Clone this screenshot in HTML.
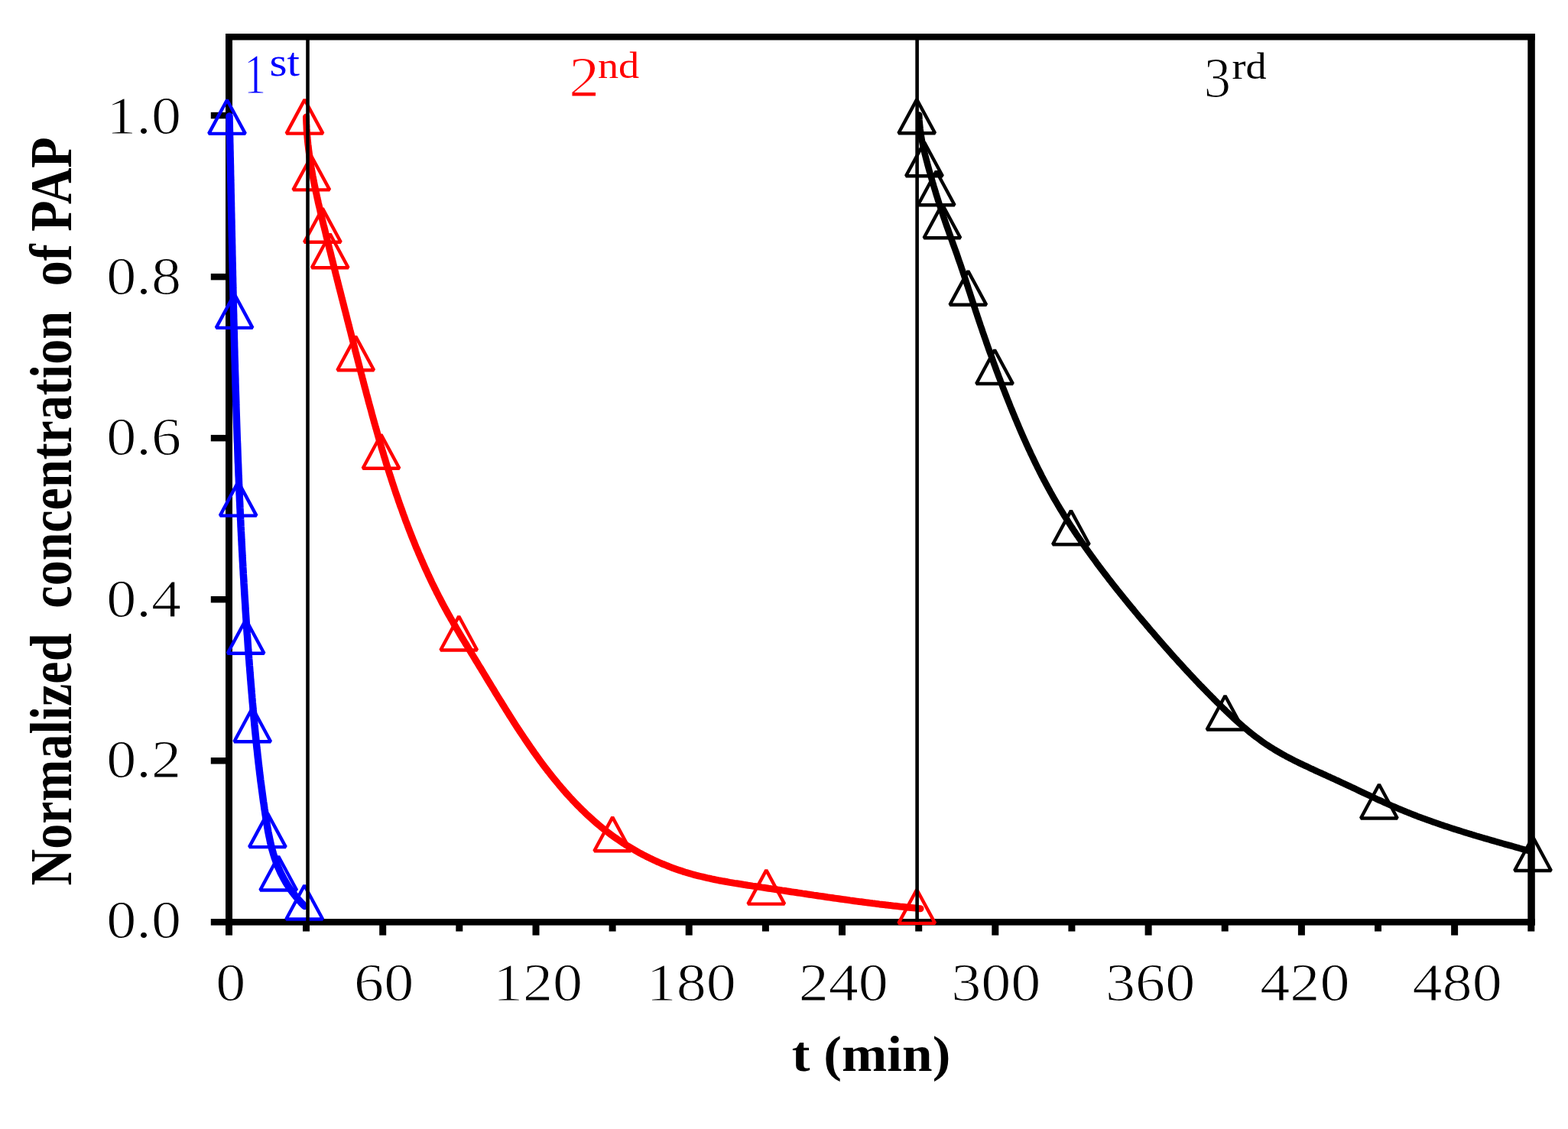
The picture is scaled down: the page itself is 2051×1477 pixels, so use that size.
<!DOCTYPE html><html><head><meta charset="utf-8"><style>html,body{margin:0;padding:0;background:#fff;overflow:hidden}svg{display:block}</style></head><body>
<svg width="2051" height="1477" viewBox="0 0 2051 1477">
<rect width="2051" height="1477" fill="#fff"/>
<g fill="#000">
<rect x="295" y="44" width="9" height="1166.5"/>
<rect x="1998.3" y="44" width="9.5" height="1166.5"/>
<rect x="295" y="44" width="1712.8" height="8.5"/>
<rect x="275.8" y="1202" width="1732" height="8.6"/>
<rect x="275.8" y="991.0" width="20" height="8.5"/>
<rect x="275.8" y="780.0" width="20" height="8.5"/>
<rect x="275.8" y="568.9" width="20" height="8.5"/>
<rect x="275.8" y="357.9" width="20" height="8.5"/>
<rect x="275.8" y="146.8" width="20" height="8.5"/>
<rect x="295.0" y="1206" width="9" height="17.6"/>
<rect x="396.0" y="1206" width="9" height="12.5"/>
<rect x="496.2" y="1206" width="9" height="17.6"/>
<rect x="596.3" y="1206" width="9" height="12.5"/>
<rect x="696.5" y="1206" width="9" height="17.6"/>
<rect x="796.6" y="1206" width="9" height="12.5"/>
<rect x="896.7" y="1206" width="9" height="17.6"/>
<rect x="996.9" y="1206" width="9" height="12.5"/>
<rect x="1097.0" y="1206" width="9" height="17.6"/>
<rect x="1197.2" y="1206" width="9" height="12.5"/>
<rect x="1297.3" y="1206" width="9" height="17.6"/>
<rect x="1397.4" y="1206" width="9" height="12.5"/>
<rect x="1497.6" y="1206" width="9" height="17.6"/>
<rect x="1597.7" y="1206" width="9" height="12.5"/>
<rect x="1697.9" y="1206" width="9" height="17.6"/>
<rect x="1798.0" y="1206" width="9" height="12.5"/>
<rect x="1898.1" y="1206" width="9" height="17.6"/>
<rect x="1998.3" y="1206" width="9" height="12.5"/>
</g>
<path d="M300.0,152.0 L300.1,155.0 L300.1,158.0 L300.2,161.0 L300.3,164.0 L300.3,167.0 L300.4,170.0 L300.5,173.0 L300.5,176.0 L300.6,179.0 L300.7,182.0 L300.7,185.0 L300.8,187.9 L300.9,190.9 L300.9,193.9 L301.0,196.9 L301.1,199.9 L301.1,202.9 L301.2,205.9 L301.3,208.9 L301.3,211.9 L301.4,214.9 L301.5,217.9 L301.5,220.9 L301.6,223.9 L301.6,226.9 L301.7,229.9 L301.8,232.9 L301.8,235.9 L301.9,238.9 L302.0,241.9 L302.0,244.9 L302.1,247.9 L302.1,250.9 L302.2,253.9 L302.3,256.9 L302.3,259.9 L302.4,262.8 L302.5,265.8 L302.5,268.8 L302.6,271.8 L302.6,274.8 L302.7,277.8 L302.8,280.8 L302.8,283.8 L302.9,286.8 L303.0,289.8 L303.0,292.8 L303.1,295.8 L303.1,298.8 L303.2,301.8 L303.3,304.8 L303.3,307.8 L303.4,310.8 L303.5,313.8 L303.5,316.8 L303.6,319.8 L303.7,322.8 L303.7,325.8 L303.8,328.8 L303.8,331.8 L303.9,334.8 L304.0,337.8 L304.0,340.8 L304.1,343.7 L304.2,346.7 L304.2,349.7 L304.3,352.7 L304.4,355.7 L304.4,358.7 L304.5,361.7 L304.6,364.7 L304.6,367.7 L304.7,370.7 L304.8,373.7 L304.8,376.7 L304.9,379.7 L305.0,382.7 L305.0,385.7 L305.1,388.7 L305.2,391.7 L305.2,394.7 L305.3,397.7 L305.4,400.7 L305.4,403.7 L305.5,406.7 L305.6,409.7 L305.7,412.7 L305.7,415.7 L305.8,418.7 L305.9,421.6 L306.0,424.6 L306.0,427.6 L306.1,430.6 L306.2,433.6 L306.3,436.6 L306.3,439.6 L306.4,442.6 L306.5,445.6 L306.6,448.6 L306.6,451.6 L306.7,454.6 L306.8,457.6 L306.9,460.6 L306.9,463.6 L307.0,466.6 L307.1,469.6 L307.2,472.6 L307.3,475.6 L307.4,478.6 L307.4,481.6 L307.5,484.6 L307.6,487.6 L307.7,490.6 L307.8,493.5 L307.9,496.5 L307.9,499.5 L308.0,502.5 L308.1,505.5 L308.2,508.5 L308.3,511.5 L308.4,514.5 L308.5,517.5 L308.6,520.5 L308.7,523.5 L308.8,526.5 L308.8,529.5 L308.9,532.5 L309.0,535.5 L309.1,538.5 L309.2,541.5 L309.3,544.5 L309.4,547.5 L309.5,550.5 L309.6,553.5 L309.7,556.4 L309.8,559.4 L309.9,562.4 L310.0,565.4 L310.1,568.4 L310.2,571.4 L310.3,574.4 L310.4,577.4 L310.6,580.4 L310.7,583.4 L310.8,586.4 L310.9,589.4 L311.0,592.4 L311.1,595.4 L311.2,598.4 L311.3,601.4 L311.4,604.4 L311.6,607.4 L311.7,610.3 L311.8,613.3 L311.9,616.3 L312.0,619.3 L312.1,622.3 L312.3,625.3 L312.4,628.3 L312.5,631.3 L312.6,634.3 L312.8,637.3 L312.9,640.3 L313.0,643.3 L313.1,646.3 L313.3,649.3 L313.4,652.3 L313.5,655.3 L313.7,658.2 L313.8,661.2 L313.9,664.2 L314.1,667.2 L314.2,670.2 L314.3,673.2 L314.5,676.2 L314.6,679.2 L314.8,682.2 L314.9,685.2 L315.0,688.2 L315.2,691.2 L315.3,694.2 L315.5,697.2 L315.6,700.1 L315.8,703.1 L315.9,706.1 L316.1,709.1 L316.2,712.1 L316.4,715.1 L316.5,718.1 L316.7,721.1 L316.9,724.1 L317.0,727.1 L317.2,730.1 L317.3,733.1 L317.5,736.0 L317.7,739.0 L317.8,742.0 L318.0,745.0 L318.2,748.0 L318.3,751.0 L318.5,754.0 L318.7,757.0 L318.9,760.0 L319.0,763.0 L319.2,766.0 L319.4,768.9 L319.6,771.9 L319.7,774.9 L319.9,777.9 L320.1,780.9 L320.3,783.9 L320.5,786.9 L320.7,789.9 L320.9,792.9 L321.0,795.9 L321.2,798.9 L321.4,801.8 L321.6,804.8 L321.8,807.8 L322.0,810.8 L322.2,813.8 L322.4,816.8 L322.6,819.8 L322.8,822.8 L323.0,825.8 L323.2,828.7 L323.5,831.7 L323.7,834.7 L323.9,837.7 L324.1,840.7 L324.3,843.7 L324.5,846.7 L324.7,849.7 L325.0,852.7 L325.2,855.6 L325.4,858.6 L325.6,861.6 L325.9,864.6 L326.1,867.6 L326.3,870.6 L326.6,873.6 L326.8,876.6 L327.0,879.5 L327.3,882.5 L327.5,885.5 L327.7,888.5 L328.0,891.5 L328.2,894.5 L328.5,897.5 L328.7,900.5 L329.0,903.4 L329.2,906.4 L329.5,909.4 L329.7,912.4 L330.0,915.4 L330.2,918.4 L330.5,921.4 L330.8,924.4 L331.0,927.3 L331.3,930.3 L331.6,933.3 L331.8,936.3 L332.1,939.3 L332.4,942.3 L332.7,945.3 L332.9,948.2 L333.2,951.2 L333.5,954.2 L333.8,957.2 L334.1,960.2 L334.4,963.2 L334.7,966.1 L335.0,969.1 L335.3,972.1 L335.6,975.1 L335.9,978.1 L336.3,981.1 L336.6,984.0 L336.9,987.0 L337.2,990.0 L337.6,993.0 L337.9,996.0 L338.2,998.9 L338.6,1001.9 L338.9,1004.9 L339.3,1007.9 L339.6,1010.9 L340.0,1013.8 L340.4,1016.8 L340.7,1019.8 L341.1,1022.8 L341.5,1025.7 L341.9,1028.7 L342.3,1031.7 L342.7,1034.7 L343.1,1037.6 L343.5,1040.6 L343.9,1043.6 L344.3,1046.6 L344.7,1049.5 L345.2,1052.5 L345.6,1055.5 L346.0,1058.5 L346.5,1061.4 L346.9,1064.4 L347.4,1067.4 L347.8,1070.3 L348.3,1073.3 L348.8,1076.3 L349.3,1079.2 L349.8,1082.2 L350.3,1085.2 L350.8,1088.1 L351.4,1091.1 L352.0,1094.0 L352.6,1096.9 L353.2,1099.8 L353.8,1102.7 L354.5,1105.6 L355.2,1108.5 L356.0,1111.4 L356.8,1114.2 L357.6,1117.1 L358.5,1119.9 L359.4,1122.7 L360.4,1125.5 L361.4,1128.3 L362.4,1131.0 L363.5,1133.7 L364.7,1136.4 L365.9,1139.1 L367.1,1141.8 L368.5,1144.4 L369.8,1147.0 L371.2,1149.6 L372.7,1152.2 L374.2,1154.8 L375.7,1157.3 L377.3,1159.8 L379.0,1162.3 L380.7,1164.7 L382.5,1167.1 L384.3,1169.5 L386.2,1171.9 L388.1,1174.2 L390.1,1176.5 L392.1,1178.8 L394.2,1181.1 L396.3,1183.3 L398.5,1185.5" fill="none" stroke="#0000ff" stroke-width="9.5" stroke-linecap="round" stroke-linejoin="round"/>
<path d="M400.5,153.0 L400.6,156.0 L400.7,159.0 L400.8,162.0 L401.0,165.0 L401.1,168.0 L401.3,171.0 L401.5,174.0 L401.8,177.0 L402.0,180.0 L402.3,183.0 L402.6,186.0 L402.9,189.0 L403.3,191.9 L403.6,194.9 L404.0,197.9 L404.4,200.8 L404.8,203.8 L405.2,206.7 L405.6,209.7 L406.1,212.7 L406.6,215.6 L407.0,218.6 L407.5,221.5 L408.1,224.4 L408.6,227.4 L409.1,230.3 L409.7,233.3 L410.2,236.2 L410.8,239.1 L411.4,242.1 L412.0,245.0 L412.6,247.9 L413.2,250.8 L413.9,253.8 L414.5,256.7 L415.1,259.6 L415.8,262.5 L416.4,265.5 L417.1,268.4 L417.8,271.3 L418.5,274.2 L419.1,277.1 L419.8,280.0 L420.5,282.9 L421.2,285.9 L421.9,288.8 L422.6,291.7 L423.3,294.6 L424.1,297.5 L424.8,300.4 L425.5,303.3 L426.2,306.2 L426.9,309.1 L427.6,312.0 L428.3,315.0 L429.1,317.9 L429.8,320.8 L430.5,323.7 L431.2,326.6 L432.0,329.5 L432.7,332.4 L433.4,335.3 L434.1,338.2 L434.9,341.1 L435.6,344.0 L436.3,346.9 L437.0,349.8 L437.8,352.7 L438.5,355.6 L439.2,358.6 L440.0,361.5 L440.7,364.4 L441.4,367.3 L442.2,370.2 L442.9,373.1 L443.6,376.0 L444.4,378.9 L445.1,381.8 L445.9,384.7 L446.6,387.6 L447.3,390.5 L448.1,393.4 L448.8,396.3 L449.6,399.2 L450.3,402.1 L451.0,405.0 L451.8,407.9 L452.5,410.8 L453.3,413.7 L454.0,416.6 L454.7,419.5 L455.5,422.4 L456.2,425.3 L457.0,428.2 L457.7,431.1 L458.5,434.0 L459.2,436.9 L459.9,439.8 L460.7,442.7 L461.4,445.6 L462.2,448.5 L462.9,451.4 L463.7,454.3 L464.4,457.2 L465.1,460.1 L465.9,463.0 L466.6,465.9 L467.4,468.8 L468.1,471.7 L468.9,474.6 L469.6,477.5 L470.4,480.4 L471.1,483.3 L471.9,486.2 L472.6,489.1 L473.4,492.0 L474.1,494.9 L474.9,497.8 L475.6,500.7 L476.4,503.6 L477.1,506.5 L477.9,509.3 L478.7,512.2 L479.4,515.1 L480.2,518.0 L481.0,520.9 L481.7,523.8 L482.5,526.7 L483.3,529.6 L484.1,532.5 L484.9,535.4 L485.7,538.2 L486.4,541.1 L487.2,544.0 L488.0,546.9 L488.8,549.8 L489.6,552.7 L490.4,555.5 L491.2,558.4 L492.1,561.3 L492.9,564.2 L493.7,567.1 L494.5,569.9 L495.3,572.8 L496.2,575.7 L497.0,578.6 L497.9,581.4 L498.7,584.3 L499.5,587.2 L500.4,590.1 L501.3,592.9 L502.1,595.8 L503.0,598.7 L503.9,601.5 L504.7,604.4 L505.6,607.3 L506.5,610.1 L507.4,613.0 L508.3,615.9 L509.2,618.7 L510.1,621.6 L511.1,624.4 L512.0,627.3 L512.9,630.1 L513.8,633.0 L514.8,635.9 L515.7,638.7 L516.7,641.6 L517.6,644.4 L518.6,647.3 L519.6,650.1 L520.6,652.9 L521.5,655.8 L522.5,658.6 L523.5,661.5 L524.6,664.3 L525.6,667.1 L526.6,670.0 L527.6,672.8 L528.7,675.6 L529.7,678.5 L530.7,681.3 L531.8,684.1 L532.9,686.9 L533.9,689.7 L535.0,692.5 L536.1,695.3 L537.2,698.2 L538.3,701.0 L539.4,703.7 L540.5,706.5 L541.7,709.3 L542.8,712.1 L543.9,714.9 L545.1,717.7 L546.3,720.4 L547.4,723.2 L548.6,726.0 L549.8,728.7 L551.0,731.5 L552.2,734.2 L553.4,737.0 L554.6,739.7 L555.8,742.5 L557.1,745.2 L558.3,747.9 L559.6,750.6 L560.8,753.3 L562.1,756.0 L563.4,758.7 L564.6,761.4 L565.9,764.1 L567.3,766.8 L568.6,769.5 L569.9,772.1 L571.2,774.8 L572.6,777.4 L573.9,780.1 L575.3,782.7 L576.7,785.4 L578.0,788.0 L579.4,790.6 L580.8,793.2 L582.2,795.8 L583.7,798.4 L585.1,801.0 L586.5,803.6 L588.0,806.1 L589.4,808.7 L590.9,811.3 L592.4,813.8 L593.8,816.4 L595.3,818.9 L596.8,821.5 L598.3,824.0 L599.8,826.6 L601.3,829.1 L602.8,831.6 L604.3,834.2 L605.9,836.7 L607.4,839.2 L608.9,841.8 L610.5,844.3 L612.0,846.8 L613.5,849.4 L615.1,851.9 L616.6,854.4 L618.2,857.0 L619.7,859.5 L621.3,862.1 L622.8,864.6 L624.4,867.2 L625.9,869.7 L627.5,872.3 L629.1,874.8 L630.6,877.4 L632.2,880.0 L633.7,882.5 L635.3,885.1 L636.8,887.7 L638.4,890.3 L640.0,892.9 L641.5,895.4 L643.1,898.0 L644.7,900.6 L646.3,903.2 L647.8,905.8 L649.4,908.4 L651.0,911.0 L652.6,913.6 L654.2,916.1 L655.8,918.7 L657.4,921.3 L659.0,923.9 L660.6,926.5 L662.2,929.1 L663.8,931.6 L665.4,934.2 L667.0,936.8 L668.7,939.4 L670.3,941.9 L671.9,944.5 L673.6,947.1 L675.2,949.6 L676.9,952.2 L678.6,954.7 L680.2,957.3 L681.9,959.8 L683.6,962.3 L685.3,964.9 L687.0,967.4 L688.7,969.9 L690.4,972.4 L692.1,974.9 L693.8,977.4 L695.6,979.9 L697.3,982.4 L699.0,984.9 L700.8,987.3 L702.6,989.8 L704.3,992.3 L706.1,994.7 L707.9,997.1 L709.7,999.6 L711.5,1002.0 L713.3,1004.4 L715.2,1006.8 L717.0,1009.2 L718.9,1011.5 L720.7,1013.9 L722.6,1016.3 L724.5,1018.6 L726.4,1020.9 L728.3,1023.2 L730.2,1025.5 L732.1,1027.8 L734.1,1030.1 L736.0,1032.4 L738.0,1034.6 L739.9,1036.9 L741.9,1039.1 L743.9,1041.3 L745.9,1043.5 L748.0,1045.7 L750.0,1047.9 L752.0,1050.0 L754.1,1052.2 L756.2,1054.3 L758.3,1056.4 L760.4,1058.5 L762.5,1060.6 L764.6,1062.6 L766.8,1064.7 L768.9,1066.7 L771.1,1068.7 L773.3,1070.7 L775.5,1072.7 L777.7,1074.6 L779.9,1076.5 L782.2,1078.5 L784.5,1080.4 L786.7,1082.2 L789.0,1084.1 L791.4,1085.9 L793.7,1087.7 L796.0,1089.5 L798.4,1091.3 L800.8,1093.1 L803.2,1094.8 L805.6,1096.5 L808.0,1098.2 L810.5,1099.9 L812.9,1101.5 L815.4,1103.2 L817.9,1104.8 L820.4,1106.3 L823.0,1107.9 L825.5,1109.4 L828.1,1110.9 L830.6,1112.4 L833.2,1113.9 L835.8,1115.4 L838.5,1116.8 L841.1,1118.2 L843.7,1119.5 L846.4,1120.9 L849.1,1122.2 L851.7,1123.5 L854.4,1124.8 L857.1,1126.0 L859.9,1127.3 L862.6,1128.5 L865.3,1129.7 L868.1,1130.8 L870.9,1131.9 L873.6,1133.0 L876.4,1134.1 L879.2,1135.2 L882.0,1136.2 L884.8,1137.2 L887.7,1138.2 L890.5,1139.1 L893.3,1140.1 L896.2,1141.0 L899.1,1141.8 L901.9,1142.7 L904.8,1143.5 L907.7,1144.3 L910.6,1145.1 L913.5,1145.8 L916.4,1146.5 L919.3,1147.2 L922.2,1147.9 L925.2,1148.6 L928.1,1149.2 L931.0,1149.9 L934.0,1150.5 L936.9,1151.1 L939.9,1151.7 L942.8,1152.2 L945.8,1152.8 L948.7,1153.3 L951.7,1153.8 L954.7,1154.4 L957.7,1154.9 L960.6,1155.4 L963.6,1155.8 L966.6,1156.3 L969.6,1156.8 L972.5,1157.3 L975.5,1157.7 L978.5,1158.2 L981.5,1158.6 L984.5,1159.1 L987.4,1159.5 L990.4,1160.0 L993.4,1160.4 L996.4,1160.9 L999.4,1161.3 L1002.3,1161.7 L1005.3,1162.2 L1008.3,1162.6 L1011.2,1163.1 L1014.2,1163.5 L1017.2,1164.0 L1020.1,1164.4 L1023.1,1164.9 L1026.1,1165.3 L1029.0,1165.8 L1032.0,1166.2 L1035.0,1166.7 L1037.9,1167.1 L1040.9,1167.5 L1043.8,1168.0 L1046.8,1168.4 L1049.8,1168.9 L1052.7,1169.3 L1055.7,1169.8 L1058.6,1170.2 L1061.6,1170.6 L1064.5,1171.1 L1067.5,1171.5 L1070.5,1172.0 L1073.4,1172.4 L1076.4,1172.8 L1079.3,1173.2 L1082.3,1173.7 L1085.2,1174.1 L1088.2,1174.5 L1091.1,1175.0 L1094.1,1175.4 L1097.0,1175.8 L1100.0,1176.2 L1103.0,1176.6 L1105.9,1177.0 L1108.9,1177.4 L1111.8,1177.9 L1114.8,1178.3 L1117.7,1178.7 L1120.7,1179.1 L1123.7,1179.5 L1126.6,1179.8 L1129.6,1180.2 L1132.5,1180.6 L1135.5,1181.0 L1138.5,1181.4 L1141.4,1181.8 L1144.4,1182.1 L1147.4,1182.5 L1150.3,1182.9 L1153.3,1183.2 L1156.3,1183.6 L1159.2,1183.9 L1162.2,1184.3 L1165.2,1184.6 L1168.2,1185.0 L1171.1,1185.3 L1174.1,1185.6 L1177.1,1186.0 L1180.1,1186.3 L1183.1,1186.6 L1186.0,1186.9 L1189.0,1187.2 L1192.0,1187.5 L1195.0,1187.8 L1198.0,1188.1 L1201.0,1188.4 L1204.0,1188.7" fill="none" stroke="#ff0000" stroke-width="9.0" stroke-linecap="round" stroke-linejoin="round"/>
<path d="M1202.3,150.5 L1202.4,153.5 L1202.5,156.5 L1202.7,159.5 L1203.0,162.5 L1203.3,165.5 L1203.6,168.5 L1204.0,171.4 L1204.4,174.4 L1204.8,177.3 L1205.3,180.3 L1205.8,183.2 L1206.4,186.1 L1207.0,189.1 L1207.6,192.0 L1208.3,194.9 L1208.9,197.8 L1209.6,200.7 L1210.3,203.6 L1211.1,206.5 L1211.8,209.4 L1212.6,212.3 L1213.3,215.2 L1214.1,218.0 L1214.9,220.9 L1215.7,223.8 L1216.5,226.7 L1217.3,229.6 L1218.2,232.4 L1219.0,235.3 L1219.8,238.2 L1220.7,241.1 L1221.5,243.9 L1222.4,246.8 L1223.3,249.7 L1224.1,252.5 L1225.0,255.4 L1225.9,258.3 L1226.8,261.1 L1227.7,264.0 L1228.6,266.8 L1229.6,269.7 L1230.5,272.5 L1231.4,275.4 L1232.4,278.2 L1233.3,281.0 L1234.3,283.9 L1235.3,286.7 L1236.2,289.5 L1237.2,292.4 L1238.2,295.2 L1239.2,298.0 L1240.2,300.8 L1241.2,303.6 L1242.2,306.5 L1243.2,309.3 L1244.2,312.1 L1245.2,314.9 L1246.2,317.7 L1247.2,320.5 L1248.2,323.3 L1249.3,326.2 L1250.3,329.0 L1251.3,331.8 L1252.3,334.6 L1253.2,337.4 L1254.2,340.3 L1255.2,343.1 L1256.2,345.9 L1257.2,348.8 L1258.1,351.6 L1259.1,354.4 L1260.0,357.3 L1261.0,360.1 L1261.9,362.9 L1262.9,365.8 L1263.8,368.6 L1264.7,371.5 L1265.7,374.3 L1266.6,377.2 L1267.5,380.0 L1268.5,382.9 L1269.4,385.7 L1270.3,388.6 L1271.2,391.4 L1272.2,394.3 L1273.1,397.1 L1274.0,400.0 L1275.0,402.8 L1275.9,405.7 L1276.8,408.5 L1277.8,411.4 L1278.7,414.2 L1279.7,417.1 L1280.6,419.9 L1281.6,422.7 L1282.5,425.6 L1283.5,428.4 L1284.5,431.2 L1285.4,434.1 L1286.4,436.9 L1287.4,439.7 L1288.4,442.6 L1289.4,445.4 L1290.3,448.2 L1291.3,451.0 L1292.3,453.9 L1293.3,456.7 L1294.3,459.5 L1295.3,462.3 L1296.4,465.1 L1297.4,468.0 L1298.4,470.8 L1299.4,473.6 L1300.4,476.4 L1301.5,479.2 L1302.5,482.0 L1303.5,484.8 L1304.6,487.6 L1305.6,490.4 L1306.7,493.2 L1307.8,496.0 L1308.8,498.8 L1309.9,501.6 L1311.0,504.4 L1312.0,507.2 L1313.1,510.0 L1314.2,512.8 L1315.3,515.6 L1316.4,518.4 L1317.5,521.2 L1318.6,524.0 L1319.7,526.7 L1320.8,529.5 L1321.9,532.3 L1323.1,535.1 L1324.2,537.9 L1325.3,540.6 L1326.5,543.4 L1327.6,546.2 L1328.8,548.9 L1329.9,551.7 L1331.1,554.5 L1332.3,557.2 L1333.4,560.0 L1334.6,562.7 L1335.8,565.5 L1337.0,568.2 L1338.2,571.0 L1339.4,573.7 L1340.7,576.5 L1341.9,579.2 L1343.1,581.9 L1344.4,584.7 L1345.6,587.4 L1346.9,590.1 L1348.1,592.8 L1349.4,595.5 L1350.7,598.2 L1352.0,600.9 L1353.3,603.6 L1354.6,606.3 L1355.9,609.0 L1357.2,611.7 L1358.6,614.4 L1359.9,617.0 L1361.3,619.7 L1362.6,622.4 L1364.0,625.0 L1365.4,627.7 L1366.8,630.3 L1368.2,633.0 L1369.6,635.6 L1371.0,638.2 L1372.5,640.8 L1373.9,643.5 L1375.4,646.1 L1376.8,648.7 L1378.3,651.3 L1379.8,653.9 L1381.3,656.4 L1382.8,659.0 L1384.3,661.6 L1385.9,664.2 L1387.4,666.7 L1389.0,669.3 L1390.5,671.8 L1392.1,674.4 L1393.7,676.9 L1395.3,679.4 L1396.9,682.0 L1398.5,684.5 L1400.1,687.0 L1401.7,689.5 L1403.4,692.0 L1405.0,694.5 L1406.7,697.0 L1408.3,699.5 L1410.0,701.9 L1411.7,704.4 L1413.4,706.9 L1415.1,709.4 L1416.8,711.8 L1418.5,714.3 L1420.2,716.7 L1421.9,719.2 L1423.7,721.6 L1425.4,724.0 L1427.2,726.5 L1428.9,728.9 L1430.7,731.3 L1432.5,733.7 L1434.2,736.2 L1436.0,738.6 L1437.8,741.0 L1439.6,743.4 L1441.4,745.8 L1443.2,748.1 L1445.0,750.5 L1446.9,752.9 L1448.7,755.3 L1450.5,757.7 L1452.4,760.0 L1454.2,762.4 L1456.1,764.8 L1457.9,767.1 L1459.8,769.5 L1461.6,771.8 L1463.5,774.2 L1465.4,776.5 L1467.3,778.9 L1469.2,781.2 L1471.0,783.5 L1472.9,785.8 L1474.8,788.2 L1476.7,790.5 L1478.6,792.8 L1480.5,795.1 L1482.5,797.4 L1484.4,799.8 L1486.3,802.1 L1488.2,804.4 L1490.1,806.7 L1492.1,809.0 L1494.0,811.3 L1495.9,813.5 L1497.9,815.8 L1499.8,818.1 L1501.8,820.4 L1503.7,822.7 L1505.6,825.0 L1507.6,827.2 L1509.6,829.5 L1511.5,831.8 L1513.5,834.1 L1515.4,836.3 L1517.4,838.6 L1519.4,840.8 L1521.3,843.1 L1523.3,845.3 L1525.3,847.6 L1527.3,849.8 L1529.3,852.1 L1531.2,854.3 L1533.2,856.6 L1535.2,858.8 L1537.2,861.0 L1539.2,863.2 L1541.2,865.5 L1543.3,867.7 L1545.3,869.9 L1547.3,872.1 L1549.3,874.3 L1551.3,876.5 L1553.4,878.7 L1555.4,880.9 L1557.5,883.1 L1559.5,885.3 L1561.6,887.5 L1563.6,889.7 L1565.7,891.8 L1567.7,894.0 L1569.8,896.2 L1571.9,898.3 L1574.0,900.5 L1576.1,902.6 L1578.2,904.8 L1580.3,906.9 L1582.4,909.1 L1584.5,911.2 L1586.6,913.3 L1588.7,915.5 L1590.8,917.6 L1593.0,919.7 L1595.1,921.8 L1597.3,923.9 L1599.4,926.0 L1601.6,928.1 L1603.7,930.2 L1605.9,932.3 L1608.1,934.4 L1610.3,936.4 L1612.5,938.5 L1614.7,940.5 L1616.9,942.5 L1619.2,944.5 L1621.4,946.5 L1623.7,948.5 L1625.9,950.5 L1628.2,952.4 L1630.5,954.3 L1632.8,956.2 L1635.1,958.1 L1637.5,960.0 L1639.8,961.8 L1642.2,963.7 L1644.6,965.4 L1647.0,967.2 L1649.4,969.0 L1651.8,970.7 L1654.3,972.4 L1656.7,974.1 L1659.2,975.7 L1661.7,977.3 L1664.3,978.9 L1666.8,980.5 L1669.3,982.0 L1671.9,983.5 L1674.5,985.0 L1677.1,986.5 L1679.7,987.9 L1682.3,989.4 L1685.0,990.8 L1687.6,992.2 L1690.3,993.5 L1693.0,994.9 L1695.6,996.2 L1698.3,997.6 L1701.0,998.9 L1703.7,1000.2 L1706.4,1001.5 L1709.2,1002.7 L1711.9,1004.0 L1714.6,1005.3 L1717.4,1006.5 L1720.1,1007.8 L1722.8,1009.1 L1725.6,1010.3 L1728.3,1011.5 L1731.1,1012.8 L1733.8,1014.0 L1736.5,1015.3 L1739.3,1016.5 L1742.0,1017.8 L1744.8,1019.0 L1747.5,1020.3 L1750.2,1021.5 L1753.0,1022.8 L1755.7,1024.1 L1758.4,1025.3 L1761.1,1026.6 L1763.8,1027.9 L1766.6,1029.2 L1769.3,1030.5 L1772.0,1031.7 L1774.7,1033.0 L1777.4,1034.3 L1780.1,1035.6 L1782.8,1036.9 L1785.5,1038.2 L1788.2,1039.4 L1791.0,1040.7 L1793.7,1042.0 L1796.4,1043.2 L1799.1,1044.5 L1801.8,1045.8 L1804.5,1047.0 L1807.3,1048.2 L1810.0,1049.5 L1812.7,1050.7 L1815.4,1051.9 L1818.2,1053.1 L1820.9,1054.3 L1823.7,1055.5 L1826.4,1056.7 L1829.2,1057.9 L1831.9,1059.0 L1834.7,1060.2 L1837.4,1061.3 L1840.2,1062.4 L1843.0,1063.5 L1845.8,1064.6 L1848.6,1065.7 L1851.3,1066.8 L1854.1,1067.9 L1856.9,1068.9 L1859.7,1070.0 L1862.6,1071.0 L1865.4,1072.0 L1868.2,1073.1 L1871.0,1074.1 L1873.8,1075.1 L1876.6,1076.0 L1879.5,1077.0 L1882.3,1078.0 L1885.1,1079.0 L1888.0,1079.9 L1890.8,1080.9 L1893.7,1081.8 L1896.5,1082.7 L1899.4,1083.7 L1902.2,1084.6 L1905.1,1085.5 L1907.9,1086.4 L1910.8,1087.3 L1913.7,1088.2 L1916.5,1089.1 L1919.4,1090.0 L1922.3,1090.9 L1925.1,1091.7 L1928.0,1092.6 L1930.9,1093.5 L1933.8,1094.3 L1936.6,1095.2 L1939.5,1096.0 L1942.4,1096.9 L1945.3,1097.7 L1948.2,1098.5 L1951.1,1099.4 L1953.9,1100.2 L1956.8,1101.0 L1959.7,1101.8 L1962.6,1102.7 L1965.5,1103.5 L1968.4,1104.3 L1971.3,1105.1 L1974.1,1105.9 L1977.0,1106.7 L1979.9,1107.5 L1982.8,1108.4 L1985.7,1109.2 L1988.6,1110.0 L1991.5,1110.8 L1994.3,1111.6 L1997.2,1112.4 L2000.1,1113.2 L2003.0,1114.0" fill="none" stroke="#000" stroke-width="8.5" stroke-linecap="round" stroke-linejoin="round"/>
<path d="M297.0,130.7 L320.9,174.9 L273.1,174.9 Z M306.6,384.8 L330.4,428.9 L282.7,428.9 Z M311.6,630.4 L335.5,674.6 L287.8,674.6 Z M321.6,810.5 L345.5,854.8 L297.7,854.8 Z M330.2,926.0 L354.1,970.2 L306.3,970.2 Z M349.9,1063.9 L373.8,1108.1 L326.0,1108.1 Z M364.2,1120.3 L388.1,1164.5 L340.3,1164.5 Z M398.2,1158.3 L422.1,1202.5 L374.3,1202.5 Z" fill="none" stroke="#0000ff" stroke-width="4.4" stroke-linejoin="bevel"/>
<path d="M398.5,130.4 L422.4,174.6 L374.6,174.6 Z M407.3,204.2 L431.2,248.4 L383.4,248.4 Z M421.9,272.6 L445.8,316.8 L398.0,316.8 Z M431.7,306.0 L455.6,350.2 L407.8,350.2 Z M465.2,440.1 L489.1,484.3 L441.3,484.3 Z M498.5,568.5 L522.4,612.7 L474.6,612.7 Z M600.2,806.3 L624.1,850.5 L576.3,850.5 Z M801.2,1069.1 L825.1,1113.3 L777.3,1113.3 Z M1002.3,1138.4 L1026.2,1182.6 L978.4,1182.6 Z M1199.2,1163.7 L1223.1,1207.9 L1175.3,1207.9 Z" fill="none" stroke="#ff0000" stroke-width="4.4" stroke-linejoin="bevel"/>
<path d="M1199.2,130.1 L1223.1,174.3 L1175.3,174.3 Z M1209.0,186.1 L1232.9,230.3 L1185.0,230.3 Z M1224.7,224.0 L1248.6,268.2 L1200.8,268.2 Z M1232.4,267.1 L1256.3,311.3 L1208.5,311.3 Z M1266.3,354.6 L1290.2,398.8 L1242.4,398.8 Z M1301.0,457.8 L1324.9,502.0 L1277.1,502.0 Z M1400.9,668.1 L1424.8,712.3 L1377.0,712.3 Z M1602.5,910.3 L1626.4,954.5 L1578.6,954.5 Z M1803.9,1026.3 L1827.8,1070.5 L1780.0,1070.5 Z M2005.0,1094.8 L2028.9,1139.0 L1981.1,1139.0 Z" fill="none" stroke="#000" stroke-width="4.4" stroke-linejoin="bevel"/>
<g stroke="#000" stroke-width="4.6" fill="none">
<line x1="402.5" y1="48" x2="402.5" y2="1206"/>
<line x1="1199.6" y1="48" x2="1199.6" y2="1206"/>
</g>
<g font-family="Liberation Serif, Times New Roman, serif" font-size="69.8" fill="#000" stroke="#fff" stroke-width="1.1">
<text transform="translate(237,174.9) scale(1.120,1)" text-anchor="end">1.0</text>
<text transform="translate(237,385.2) scale(1.120,1)" text-anchor="end">0.8</text>
<text transform="translate(237,594.8) scale(1.120,1)" text-anchor="end">0.6</text>
<text transform="translate(237,806.7) scale(1.120,1)" text-anchor="end">0.4</text>
<text transform="translate(237,1017.1) scale(1.120,1)" text-anchor="end">0.2</text>
<text transform="translate(237,1226.6) scale(1.120,1)" text-anchor="end">0.0</text>
<text transform="translate(301.9,1309.2) scale(1.120,1)" text-anchor="middle">0</text>
<text transform="translate(502.2,1309.2) scale(1.120,1)" text-anchor="middle">60</text>
<text transform="translate(703.5,1309.2) scale(1.120,1)" text-anchor="middle">120</text>
<text transform="translate(904.2,1309.2) scale(1.120,1)" text-anchor="middle">180</text>
<text transform="translate(1103.3,1309.2) scale(1.120,1)" text-anchor="middle">240</text>
<text transform="translate(1302.8,1309.2) scale(1.120,1)" text-anchor="middle">300</text>
<text transform="translate(1504.6,1309.2) scale(1.120,1)" text-anchor="middle">360</text>
<text transform="translate(1706.9,1309.2) scale(1.120,1)" text-anchor="middle">420</text>
<text transform="translate(1906.1,1309.2) scale(1.120,1)" text-anchor="middle">480</text>
</g>
<text transform="translate(1139.6,1400.7) scale(1.07,1)" text-anchor="middle" font-family="Liberation Serif, serif" font-weight="bold" font-size="66.5">t (min)</text>
<text transform="translate(92.5,668.9) scale(1.17,1) rotate(-90)" text-anchor="middle" font-family="Liberation Serif, serif" font-weight="bold" font-size="66" xml:space="preserve" style="white-space:pre">Normalized  concentration  of PAP</text>
<g font-family="Liberation Serif, serif" stroke="#fff" stroke-width="1.2">
<text transform="translate(319,121.6) scale(0.8,1)" font-size="73.2" fill="#0000ff">1</text>
<text transform="translate(352.5,98.5) scale(1.12,1)" font-size="53" stroke="none" fill="#0000ff">st</text>
<text transform="translate(744.2,126.2) scale(1.065,1)" font-size="74.8" fill="#ff0000">2</text>
<text transform="translate(782,102.4) scale(1.13,1)" font-size="48" stroke="none" fill="#ff0000">nd</text>
<text transform="translate(1574.7,126.8) scale(0.94,1)" font-size="74.8" fill="#000">3</text>
<text transform="translate(1611.5,102.7) scale(1.13,1)" font-size="48" stroke="none" fill="#000">rd</text>
</g>
</svg></body></html>
